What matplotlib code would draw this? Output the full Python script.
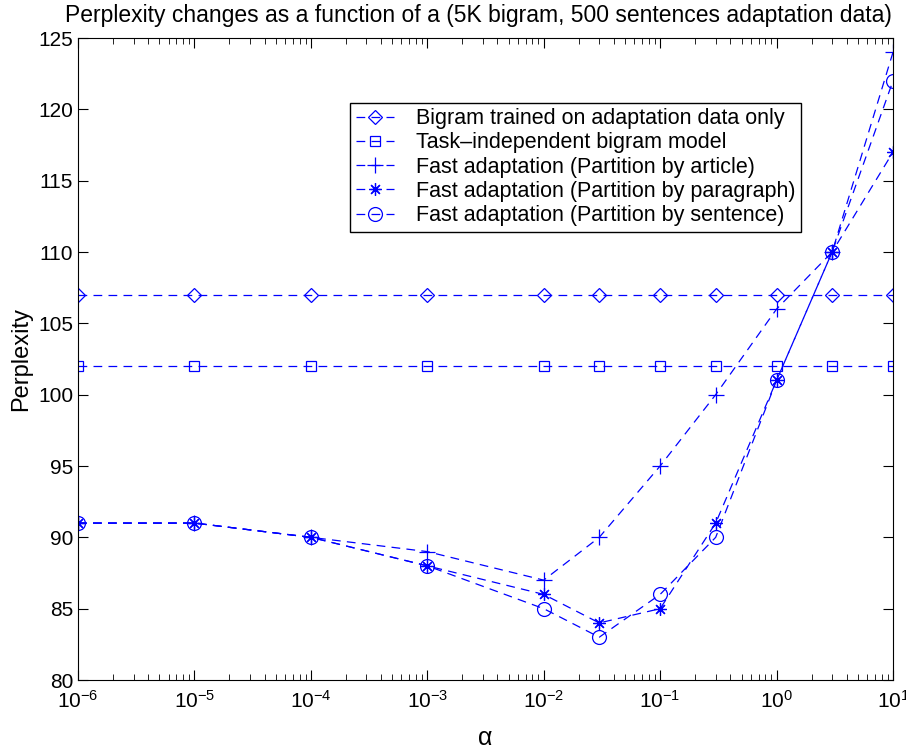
import matplotlib as mpl, numpy as np
import matplotlib.pyplot as plt

plt.rc('font', family='Liberation Sans', size=15)

# Data
alpha = [1e-6, 1e-5, 1e-4, 1e-3, 1e-2, 3e-2, 1e-1, 3e-1, 1, 3, 10]
bigram_adapt = [107, 107, 107, 107, 107, 107, 107, 107, 107, 107, 107]
task_indep = [102, 102, 102, 102, 102, 102, 102, 102, 102, 102, 102]
by_article = [91, 91, 90, 89, 87, 90, 95, 100, 106, 110, 124]
by_paragraph = [91, 91, 90, 88, 86, 84, 85, 91, 101, 110, 117]
by_sentence = [91, 91, 90, 88, 85, 83, 86, 90, 101, 110, 122]

labels = ['Bigram trained on adaptation data only',
          'Task\u2013independent bigram model',
          'Fast adaptation (Partition by article)',
          'Fast adaptation (Partition by paragraph)',
          'Fast adaptation (Partition by sentence)']
series = [bigram_adapt, task_indep, by_article, by_paragraph, by_sentence]
markers = ['D', 's', '+', (8, 2, 0), 'o']
msizes = [7, 7, 11, 9, 10]

fig = plt.figure(figsize=(9.06, 7.5), dpi=100)
ax = fig.add_axes([78/906, 1 - 680/750, (893-78)/906, (680-38)/750])

for y, m, ms, lab in zip(series, markers, msizes, labels):
    ax.plot(alpha, y, color='blue', linestyle=(0, (7, 5)), linewidth=0.9,
            marker=m, markersize=ms, markerfacecolor='none', markeredgecolor='blue',
            markeredgewidth=0.9, label=lab)

ax.set_xscale('log')
ax.set_xlim(1e-6, 10)
ax.set_ylim(80, 125)
ax.set_yticks(np.arange(80, 126, 5))
ax.tick_params(which='both', direction='in', top=True, right=True, labelsize=15)
ax.tick_params(which='major', length=7)
ax.tick_params(which='minor', length=4)
ax.xaxis.set_minor_locator(mpl.ticker.LogLocator(base=10, subs=np.arange(2, 10), numticks=20))
ax.tick_params(axis='x', pad=7, labelsize=15)

fig.suptitle('Perplexity changes as a function of a (5K bigram, 500 sentences adaptation data)',
             fontsize=16.5, x=478/906, y=0.995, va='top')
ax.set_xlabel('\u03b1', fontsize=18)
ax.xaxis.set_label_coords(0.5, -0.072)
ax.set_ylabel('Perplexity', fontsize=17)

leg = ax.legend(loc='upper left', bbox_to_anchor=(0.334, 0.899), fontsize=15.5,
                fancybox=False, edgecolor='black', framealpha=1, numpoints=1,
                handlelength=1.8, handletextpad=1.0, borderpad=0.25, labelspacing=0.15,
                borderaxespad=0)
leg.get_frame().set_linewidth(1.0)

fig.savefig('out.png', dpi=100)
